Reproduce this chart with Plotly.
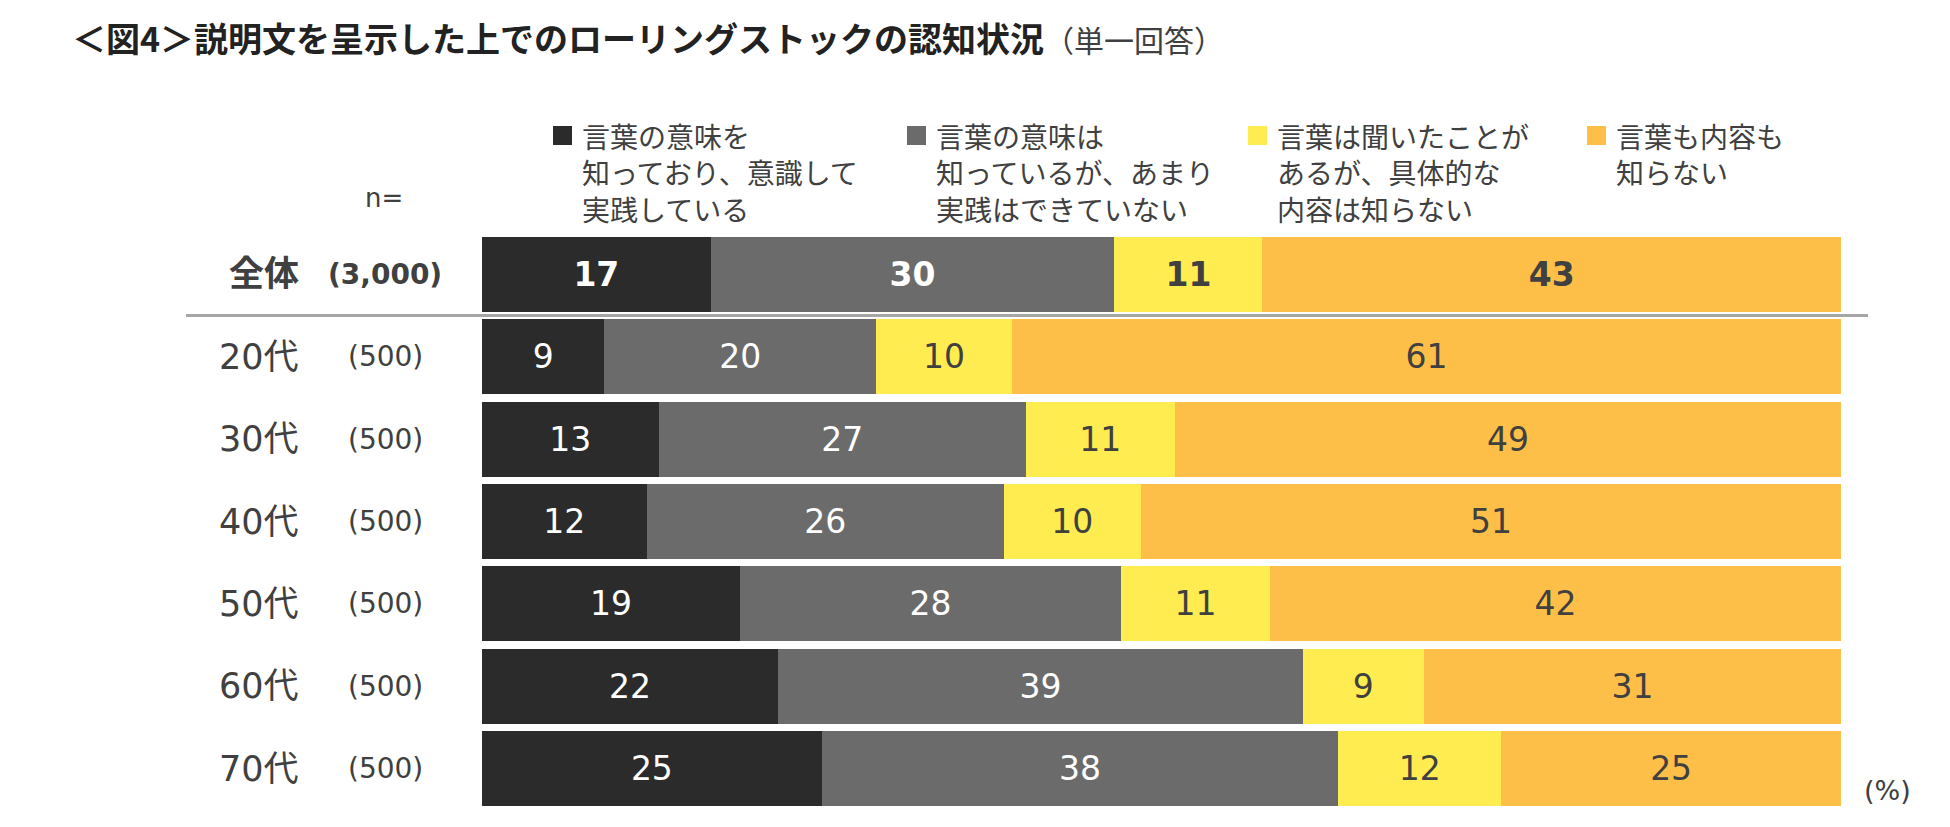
import plotly.graph_objects as go

# データ
rows = ["全体", "20代", "30代", "40代", "50代", "60代", "70代"]
n_labels = ["(3,000)", "(500)", "(500)", "(500)", "(500)", "(500)", "(500)"]

series_names = [
    "言葉の意味を<br>知っており、意識して<br>実践している",
    "言葉の意味は<br>知っているが、あまり<br>実践はできていない",
    "言葉は聞いたことが<br>あるが、具体的な<br>内容は知らない",
    "言葉も内容も<br>知らない",
]
practice = [17, 9, 13, 12, 19, 22, 25]
know_only = [30, 20, 27, 26, 28, 39, 38]
heard_only = [11, 10, 11, 10, 11, 9, 12]
unknown = [43, 61, 49, 51, 42, 31, 25]

colors = ["#2b2b2b", "#6b6b6b", "#ffec50", "#fdbf47"]
text_colors = ["white", "white", "#404040", "#404040"]

CJK = "Noto Sans CJK JP"
NUM = "DejaVu Sans, Noto Sans CJK JP"

# ページ上の位置（ブラウザの body 余白 8px を差し引く）
OFF = 8
W, H = 1950 - 2 * OFF, 827 - 2 * OFF
PL, PR, PT, PB = 482, 1841, 233, 810  # プロット領域（ページ座標）


def px(x):
    return (x - PL) / (PR - PL)


def py(y):
    return (PB - y) / (PB - PT)


fig = go.Figure()
for name, vals, col, tcol in zip(series_names, [practice, know_only, heard_only, unknown],
                                 colors, text_colors):
    labels = [f"<b>{v}</b>" if r == "全体" else str(v) for r, v in zip(rows, vals)]
    fig.add_trace(go.Bar(
        y=rows, x=vals, orientation="h", name=name,
        marker=dict(color=col, line=dict(width=0)),
        text=labels, textposition="inside", insidetextanchor="middle",
        textangle=0, textfont=dict(family=NUM, size=33, color=tcol),
        showlegend=False,
    ))

annotations = []
# タイトル
annotations.append(dict(
    x=px(70), y=py(38), xref="paper", yref="paper", xanchor="left", yanchor="middle",
    text="<b>＜図4＞説明文を呈示した上でのローリングストックの認知状況</b>"
         "<span style='font-size:30px;color:#404040'>（単一回答）</span>",
    showarrow=False, font=dict(family=CJK, size=34, color="#222222"),
))

# 凡例
leg_x = [553, 907, 1248, 1587]
line_h = 28 * 1.3
shapes = []
for lx, name, col in zip(leg_x, series_names, colors):
    shapes.append(dict(type="rect", xref="paper", yref="paper",
                       x0=px(lx), x1=px(lx + 19), y0=py(145), y1=py(126),
                       fillcolor=col, line=dict(width=0)))
    n_lines = name.count("<br>") + 1
    annotations.append(dict(
        x=px(lx + 27), y=py(136 + (n_lines - 1) * line_h / 2), xref="paper", yref="paper",
        xanchor="left", yanchor="middle", align="left", text=name, showarrow=False,
        font=dict(family=CJK, size=28, color="#404040"),
    ))

annotations.append(dict(
    x=px(384), y=py(198), xref="paper", yref="paper", xanchor="center", yanchor="middle",
    text="n=", showarrow=False, font=dict(family=NUM, size=26, color="#404040"),
))

# 行ラベル
for r, n in zip(rows, n_labels):
    bold = r == "全体"
    annotations.append(dict(
        x=px(301), y=r, xref="paper", yref="y", xanchor="right", yanchor="middle",
        text=f"<b>{r}</b>" if bold else r, showarrow=False,
        font=dict(family=NUM, size=35, color="#404040"),
    ))
    annotations.append(dict(
        x=px(385), y=r, xref="paper", yref="y", xanchor="center", yanchor="middle",
        text=f"<b>{n}</b>" if bold else n, showarrow=False,
        font=dict(family=NUM, size=28, color="#404040"),
    ))

annotations.append(dict(
    x=px(1887), y=py(790), xref="paper", yref="paper", xanchor="center", yanchor="middle",
    text="(%)", showarrow=False, font=dict(family=NUM, size=27, color="#404040"),
))

# 全体と年代の区切り線
shapes.append(dict(type="line", xref="paper", yref="y", x0=px(186), x1=px(1868),
                   y0=0.5, y1=0.5, line=dict(color="#a6a6a6", width=3)))

fig.update_layout(
    width=W, height=H,
    margin=dict(l=PL - OFF, r=W - (PR - OFF), t=PT - OFF, b=H - (PB - OFF)),
    barmode="stack", barnorm="percent", bargap=0.09,
    plot_bgcolor="white", paper_bgcolor="white",
    annotations=annotations, shapes=shapes,
    xaxis=dict(range=[0, 100], visible=False, fixedrange=True),
    yaxis=dict(categoryorder="array", categoryarray=rows, autorange="reversed",
               range=[6.5, -0.5], showticklabels=False, showgrid=False,
               zeroline=False, fixedrange=True),
    font=dict(family=CJK),
)

fig.write_html("out.html")
